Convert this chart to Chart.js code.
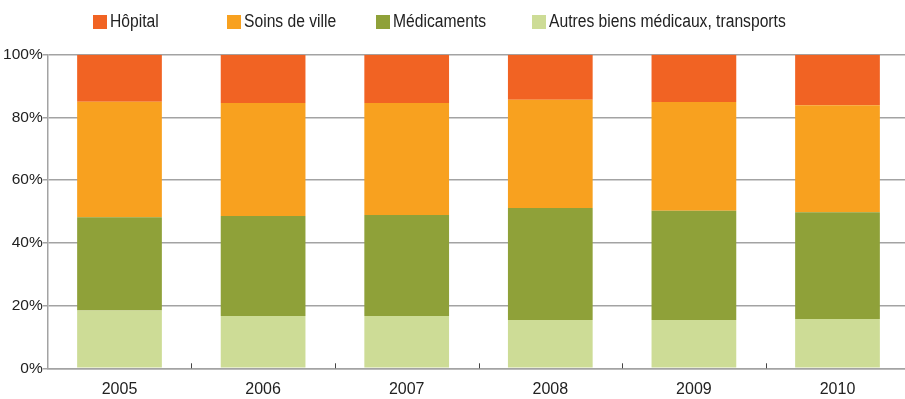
<!DOCTYPE html>
<html lang="fr">
<head>
<meta charset="utf-8">
<title>Structure de la consommation de soins</title>
<script src="https://cdn.jsdelivr.net/npm/chart.js@4.4.1/dist/chart.umd.min.js"></script>
<style>
  html, body { margin: 0; padding: 0; width: 905px; height: 399px; overflow: hidden; background: #fff; }
  #wrap { position: relative; width: 905px; height: 399px; }
  #chart { position: absolute; left: 0; top: 0; }
  #legend { position: absolute; left: 0; top: 0; width: 905px; height: 40px; }
  .item { position: absolute; top: 11px; display: flex; align-items: center; white-space: nowrap;
          font-family: "Liberation Sans", Arial, sans-serif;
          font-size: 18px; color: #222; }
  .sw { width: 14px; height: 14px; margin-right: 3px; flex: none; }
  .txt { display: inline-block; transform: scaleX(0.87); transform-origin: left center; }
</style>
</head>
<body>
<div id="wrap">
  <canvas id="chart" width="912" height="399"></canvas>
  <div id="legend"></div>
</div>
<script>
// Years on the horizontal axis
const years = ['2005', '2006', '2007', '2008', '2009', '2010'];

// Share of each spending item (%), bottom of the stack first
const autresBiens = [18.4, 16.7, 16.7, 15.4, 15.4, 15.7];
const medicaments = [29.8, 31.9, 32.2, 35.7, 34.8, 34.1];
const soinsDeVille = [36.8, 36.0, 35.7, 34.5, 34.7, 34.1];
const hopital = [15.0, 15.4, 15.4, 14.4, 15.1, 16.1];

// Vertical axis ticks
const yTicks = [0, 20, 40, 60, 80, 100];

const seriesNames = ['Autres biens médicaux, transports', 'Médicaments', 'Soins de ville', 'Hôpital'];
const seriesColors = ['#cddc96', '#8fa139', '#f8a11f', '#f16323'];

// Left offsets of the legend entries
const legendLeft = [93, 227, 376, 532];

const FONT = '"Liberation Sans", Arial, sans-serif';
const GRID = '#a3a3a3';

// Small tick marks between categories, pointing up from the x axis
const categoryTicks = {
  id: 'categoryTicks',
  afterDatasetsDraw(chart) {
    const x = chart.scales.x, y = chart.scales.y;
    const ctx = chart.ctx;
    const base = y.getPixelForValue(0);
    ctx.save();
    ctx.strokeStyle = '#444';
    ctx.lineWidth = 1;
    for (let i = 0; i < years.length - 1; i++) {
      const px = Math.round((x.getPixelForTick(i) + x.getPixelForTick(i + 1)) / 2) + 0.5;
      ctx.beginPath();
      ctx.moveTo(px, base);
      ctx.lineTo(px, base - 5);
      ctx.stroke();
    }
    ctx.restore();
  }
};

const chart = new Chart(document.getElementById('chart'), {
  type: 'bar',
  data: {
    labels: years,
    datasets: [autresBiens, medicaments, soinsDeVille, hopital].map((d, i) => ({
      label: seriesNames[i],
      data: d,
      backgroundColor: seriesColors[i],
      borderWidth: 0,
      barPercentage: 0.59,
      categoryPercentage: 1.0
    }))
  },
  options: {
    responsive: false,
    animation: false,
    devicePixelRatio: 1,
    layout: { padding: { top: 54.7, right: 2.7, bottom: 0, left: 0 } },
    plugins: {
      legend: { display: false },
      tooltip: { enabled: false }
    },
    scales: {
      x: {
        stacked: true,
        grid: { display: false, drawTicks: false },
        border: { display: true, color: GRID, width: 1.5 },
        ticks: { color: '#222', font: { family: FONT, size: 16 }, padding: 12 },
        afterFit(s) { s.height = 30.7; }
      },
      y: {
        stacked: true,
        min: 0,
        max: 100,
        afterBuildTicks(s) { s.ticks = yTicks.map(v => ({ value: v })); },
        grid: { color: GRID, lineWidth: 1.5, tickLength: 5, drawTicks: true },
        border: { display: true, color: GRID, width: 1.5 },
        ticks: {
          color: '#222',
          font: { family: FONT, size: 15.5 },
          padding: 0,
          callback: v => v + '%'
        },
        afterFit(s) { s.width = 47.7; }
      }
    }
  },
  plugins: [categoryTicks]
});

// Legend built from the datasets, top of the stack first
const legend = document.getElementById('legend');
chart.data.datasets.slice().reverse().forEach((ds, i) => {
  const item = document.createElement('div');
  item.className = 'item';
  item.style.left = legendLeft[i] + 'px';
  const sw = document.createElement('span');
  sw.className = 'sw';
  sw.style.background = ds.backgroundColor;
  const txt = document.createElement('span');
  txt.className = 'txt';
  txt.textContent = ds.label;
  item.appendChild(sw);
  item.appendChild(txt);
  legend.appendChild(item);
});
</script>
</body>
</html>
